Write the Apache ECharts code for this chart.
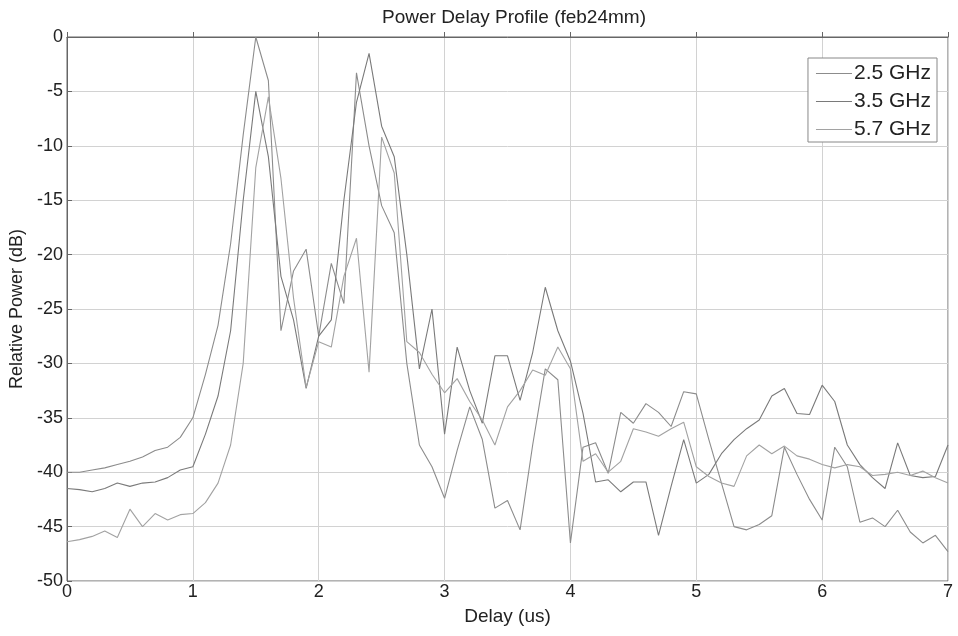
<!DOCTYPE html>
<html>
<head>
<meta charset="utf-8">
<script src="https://cdn.jsdelivr.net/npm/echarts@6/dist/echarts.min.js"></script>
<style>html,body{margin:0;padding:0;background:#fff;}#c{width:958px;height:636px;}</style>
</head>
<body>
<div id="c"></div>
<script>
// Delay axis samples (us)
const delays = [0.0,0.1,0.2,0.3,0.4,0.5,0.6,0.7,0.8,0.9,1.0,1.1,1.2,1.3,1.4,1.5,1.6,1.7,1.8,1.9,2.0,2.1,2.2,2.3,2.4,2.5,2.6,2.7,2.8,2.9,3.0,3.1,3.2,3.3,3.4,3.5,3.6,3.7,3.8,3.9,4.0,4.1,4.2,4.3,4.4,4.5,4.6,4.7,4.8,4.9,5.0,5.1,5.2,5.3,5.4,5.5,5.6,5.7,5.8,5.9,6.0,6.1,6.2,6.3,6.4,6.5,6.6,6.7,6.8,6.9,7.0];

const seriesNames = ['2.5 GHz', '3.5 GHz', '5.7 GHz'];

const power25 = [-40.0,-40.0,-39.8,-39.6,-39.3,-39.0,-38.6,-38.0,-37.7,-36.8,-35.0,-31.0,-26.5,-19.0,-9.0,0.0,-4.0,-27.0,-21.5,-19.5,-27.5,-20.8,-24.5,-3.3,-10.0,-15.5,-18.0,-30.0,-37.5,-39.5,-42.4,-38.0,-34.0,-37.0,-43.3,-42.6,-45.3,-37.5,-30.5,-31.5,-46.5,-37.7,-37.3,-40.1,-34.5,-35.5,-33.7,-34.5,-35.8,-32.6,-32.8,-37.0,-41.0,-45.0,-45.3,-44.8,-44.0,-37.7,-40.2,-42.5,-44.4,-37.7,-39.5,-44.6,-44.2,-45.0,-43.5,-45.5,-46.5,-45.8,-47.3];

const power35 = [-41.5,-41.6,-41.8,-41.5,-41.0,-41.3,-41.0,-40.9,-40.5,-39.8,-39.5,-36.5,-33.0,-27.0,-15.0,-5.0,-11.0,-22.0,-26.0,-32.3,-27.5,-26.0,-15.0,-6.0,-1.5,-8.2,-11.0,-20.0,-30.5,-25.0,-36.5,-28.5,-32.5,-35.5,-29.3,-29.3,-33.4,-29.0,-23.0,-27.0,-29.8,-34.6,-40.9,-40.7,-41.8,-40.9,-40.9,-45.8,-41.3,-37.0,-41.0,-40.2,-38.3,-37.0,-36.0,-35.2,-33.0,-32.3,-34.6,-34.7,-32.0,-33.5,-37.5,-39.3,-40.5,-41.5,-37.3,-40.3,-40.5,-40.4,-37.5];

const power57 = [-46.4,-46.2,-45.9,-45.4,-46.0,-43.4,-45.0,-43.8,-44.4,-43.9,-43.8,-42.8,-41.0,-37.5,-30.0,-12.0,-5.5,-13.0,-24.0,-32.2,-28.0,-28.5,-22.0,-18.5,-30.8,-9.2,-12.5,-28.0,-29.0,-31.0,-32.7,-31.4,-33.5,-35.2,-37.5,-34.0,-32.5,-30.6,-31.1,-28.5,-30.5,-39.0,-38.3,-40.0,-39.0,-36.0,-36.3,-36.7,-36.0,-35.4,-39.5,-40.4,-41.0,-41.3,-38.5,-37.5,-38.3,-37.6,-38.5,-38.8,-39.3,-39.6,-39.3,-39.5,-40.3,-40.2,-40.0,-40.3,-39.9,-40.5,-41.0];

const xTicks = [0,1,2,3,4,5,6,7];
const yTicks = [0,-5,-10,-15,-20,-25,-30,-35,-40,-45,-50];

const pair = arr => delays.map((d, i) => [d, arr[i]]);
const colors = ['#8c8c8c', '#7a7a7a', '#a2a2a2'];
const allPowers = [power25, power35, power57];

const chart = echarts.init(document.getElementById('c'), null, {renderer: 'canvas'});
const font = 'Liberation Sans, Arial, sans-serif';
chart.setOption({
  animation: false,
  backgroundColor: '#ffffff',
  textStyle: {fontFamily: font},
  title: {
    text: 'Power Delay Profile (feb24mm)',
    left: 509, top: 3, textAlign: 'center',
    textStyle: {fontSize: 19, fontWeight: 'normal', color: '#222', fontFamily: font}
  },
  grid: {left: 67, right: 10, top: 37, bottom: 55, show: true, borderColor: '#666', borderWidth: 1, backgroundColor: 'transparent'},
  legend: {
    data: seriesNames,
    orient: 'vertical',
    right: 21, top: 58,
    icon: 'rect',
    itemWidth: 36, itemHeight: 1.2, itemGap: 7,
    padding: [5, 6, 2, 8],
    borderColor: '#888', borderWidth: 1, backgroundColor: '#fff',
    textStyle: {fontSize: 21, color: '#222', fontFamily: font, padding: [0, 0, 0, -3]}
  },
  xAxis: {
    type: 'value', min: 0, max: 7, interval: 1,
    name: 'Delay (us)', nameLocation: 'middle', nameGap: 26,
    nameTextStyle: {fontSize: 19, color: '#222', fontFamily: font},
    axisLine: {show: true, lineStyle: {color: '#666'}},
    axisTick: {show: true, inside: true, length: 5, lineStyle: {color: '#666'}},
    axisLabel: {fontSize: 18, color: '#222', margin: 2, fontFamily: font,
      formatter: v => xTicks.includes(v) ? String(v) : ''},
    splitLine: {show: true, lineStyle: {color: '#d2d2d2', width: 1}}
  },
  yAxis: {
    type: 'value', min: -50, max: 0, interval: 5,
    name: 'Relative Power (dB)', nameLocation: 'middle', nameGap: 40,
    nameTextStyle: {fontSize: 18, color: '#222', fontFamily: font},
    axisLine: {show: true, lineStyle: {color: '#666'}},
    axisTick: {show: true, inside: true, length: 5, lineStyle: {color: '#666'}},
    axisLabel: {fontSize: 18, color: '#222', margin: 4, fontFamily: font,
      formatter: v => yTicks.includes(v) ? String(v) : ''},
    splitLine: {show: true, lineStyle: {color: '#d2d2d2', width: 1}}
  },
  series: seriesNames.map((n, i) => ({
    name: n, type: 'line', data: pair(allPowers[i]),
    symbol: 'none', showSymbol: false,
    lineStyle: {color: colors[i], width: 1.1},
    itemStyle: {color: colors[i]}
  }))
});
</script>
</body>
</html>
